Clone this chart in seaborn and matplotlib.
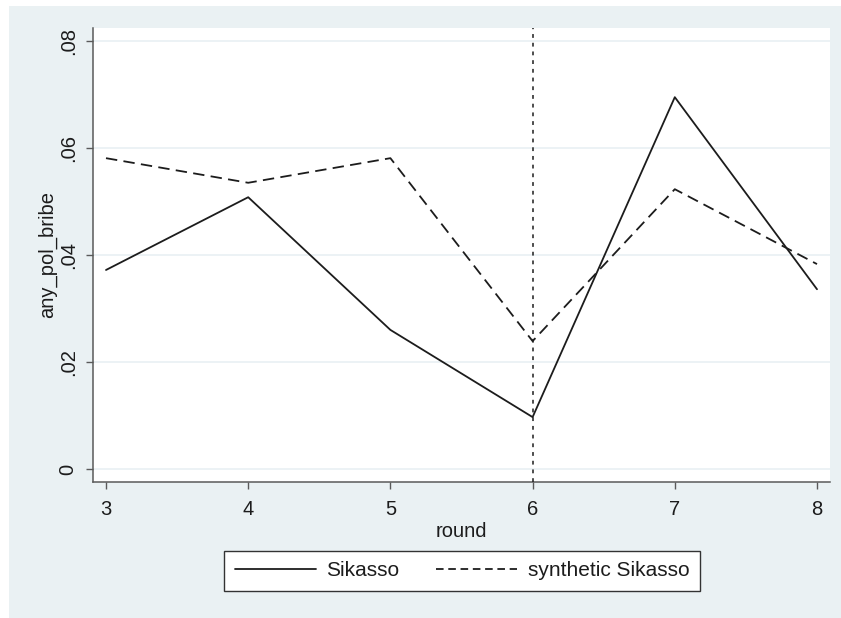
import matplotlib
matplotlib.use("Agg")
import matplotlib.pyplot as plt
from matplotlib.patches import Rectangle
from matplotlib.lines import Line2D
import seaborn as sns
import pandas as pd

rounds = [3, 4, 5, 6, 7, 8]
sikasso = [0.0372, 0.0508, 0.0260, 0.0097, 0.0695, 0.0336]
synthetic = [0.0581, 0.0535, 0.0581, 0.0239, 0.0523, 0.0383]
series_names = ["Sikasso", "synthetic Sikasso"]
yticks = [0, 0.02, 0.04, 0.06, 0.08]
ytick_labels = ["0", ".02", ".04", ".06", ".08"]
treatment_round = 6

df = pd.DataFrame({
    "round": rounds * 2,
    "any_pol_bribe": sikasso + synthetic,
    "series": [series_names[0]] * len(rounds) + [series_names[1]] * len(rounds),
})

sns.set_theme(style="white")
plt.rcParams["font.family"] = ["Liberation Sans", "DejaVu Sans"]

BG = "#EAF1F3"
INK = "#1c1c1c"
AXIS = "#5a5a5a"
FS = 14.5
LW = 1.3

fig = plt.figure(figsize=(8.41, 6.18), dpi=100, facecolor="white")
fig.patches.append(Rectangle((9 / 841, 0), 1 - 9 / 841, 1 - 6 / 618,
                             transform=fig.transFigure, facecolor=BG,
                             edgecolor="none", zorder=-5))

ax = fig.add_axes([93 / 841, 1 - 482 / 618, (830 - 93) / 841, (482 - 28) / 618])
ax.set_facecolor("white")

for y in yticks:
    ax.axhline(y, color="#EAF1F4", lw=1.3, zorder=0)

sns.lineplot(data=df, x="round", y="any_pol_bribe", style="series",
             dashes={series_names[0]: "", series_names[1]: (6.3, 3.5)},
             color=INK, lw=LW, legend=False, ax=ax)

ax.axvline(treatment_round, color=INK, lw=1.1, linestyle=(0, (2.5, 3.2)), zorder=3)

ax.set_xlim(3 - 13 / 142.2, 8 + 13 / 142.2)
ax.set_ylim(-13 / 5350, 0.08 + 13 / 5350)
ax.set_xticks(rounds)
ax.set_xticklabels([str(r) for r in rounds], fontsize=FS)
ax.set_yticks(yticks)
ax.set_yticklabels(ytick_labels, fontsize=FS, rotation=90, va="center")

for side in ["top", "right"]:
    ax.spines[side].set_visible(False)
for side in ["left", "bottom"]:
    ax.spines[side].set_color(AXIS)
    ax.spines[side].set_linewidth(1.1)

ax.tick_params(axis="both", which="major", direction="out", length=5,
               width=1.0, color=AXIS, labelcolor=INK, left=True, bottom=True)
ax.tick_params(axis="x", pad=8)
ax.tick_params(axis="y", pad=6)

ax.set_xlabel("round", fontsize=FS, color=INK, labelpad=2)
ax.set_ylabel("any_pol_bribe", fontsize=FS, color=INK, labelpad=1.5)

handles = [Line2D([], [], color=INK, lw=LW),
           Line2D([], [], color=INK, lw=LW, linestyle=(0, (4.2, 2.6)))]
leg = fig.legend(handles, series_names, loc="center",
                 bbox_to_anchor=(462 / 841, 1 - 571 / 618), ncol=2,
                 fontsize=15, frameon=True, fancybox=False, framealpha=1,
                 handlelength=3.9, handletextpad=0.5, columnspacing=1.75,
                 borderpad=0.5, borderaxespad=0)
leg.get_frame().set_edgecolor("#333333")
leg.get_frame().set_linewidth(1.0)
leg.get_frame().set_facecolor("white")
for t in leg.get_texts():
    t.set_color(INK)

fig.savefig("out.png", dpi=100, facecolor="white")
